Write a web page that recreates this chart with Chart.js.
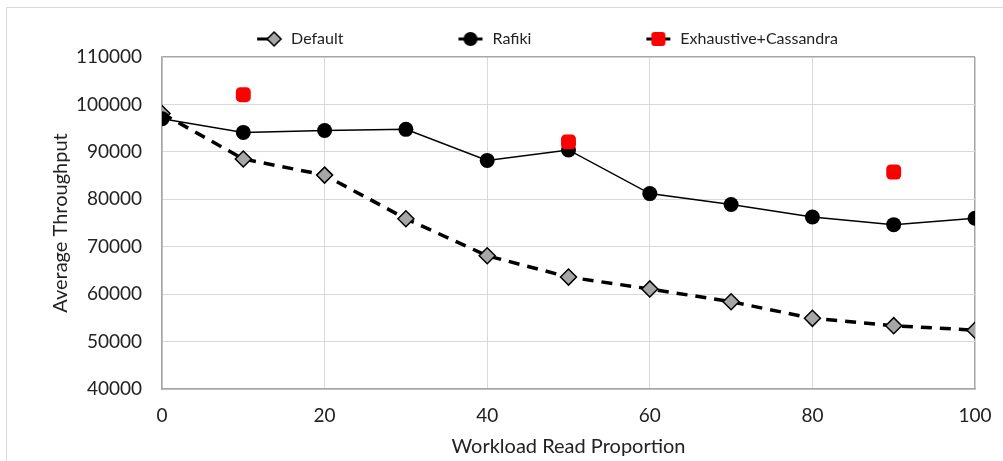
<!DOCTYPE html>
<html>
<head>
<meta charset="utf-8">
<script src="https://cdn.jsdelivr.net/npm/chart.js@4/dist/chart.umd.min.js"></script>
<style>
  body { margin: 0; background: #fff; }
  #wrap { position: relative; width: 1003px; height: 461px; overflow: hidden; }
  #frame { position: absolute; left: 6px; top: 7px; width: 1200px; height: 700px; border: 1px solid #d9d9d9; }
  canvas { position: absolute; left: 0; top: 0; }
</style>
</head>
<body>
<div id="wrap">
  <div id="frame"></div>
  <canvas id="chart" width="1003" height="461"></canvas>
</div>
<script>
// datos
const readProportion = [0, 10, 20, 30, 40, 50, 60, 70, 80, 90, 100];
const defaultThroughput = [98100, 88500, 85100, 75900, 68100, 63600, 61100, 58400, 54900, 53350, 52400];
const rafikiThroughput = [97000, 94100, 94500, 94750, 88200, 90400, 81200, 78900, 76250, 74650, 76000];
const exhaustiveX = [10, 50, 90];
const exhaustiveThroughput = [102050, 92100, 85750];
const xTicks = [0, 20, 40, 60, 80, 100];
const yTicks = [40000, 50000, 60000, 70000, 80000, 90000, 100000, 110000];

const font = 'Lato';
const toPoints = (xs, ys) => xs.map((x, i) => ({ x: x, y: ys[i] }));

// icono de leyenda: linea + marcador, con espacio vacio a la izquierda
function legendIcon(kind) {
  const c = document.createElement('canvas');
  c.width = 131; c.height = 18;
  const g = c.getContext('2d');
  const cy = 9;
  g.strokeStyle = '#000';
  g.lineWidth = 3;
  g.beginPath();
  if (kind === 'default') { g.moveTo(105, cy); g.lineTo(116, cy); }
  else { g.moveTo(105, cy); g.lineTo(129, cy); }
  g.stroke();
  if (kind === 'default') {
    g.fillStyle = '#a6a6a6';
    g.lineWidth = 1.5;
    g.beginPath();
    g.moveTo(122, cy - 7); g.lineTo(129, cy); g.lineTo(122, cy + 7); g.lineTo(115, cy);
    g.closePath(); g.fill(); g.stroke();
  } else if (kind === 'rafiki') {
    g.fillStyle = '#000';
    g.beginPath(); g.arc(117, cy, 7, 0, Math.PI * 2); g.fill();
  } else {
    g.fillStyle = '#ff0000';
    g.beginPath();
    if (g.roundRect) g.roundRect(110, cy - 7, 14, 14, 3); else g.rect(110, cy - 7, 14, 14);
    g.fill();
  }
  return c;
}
const icons = [legendIcon('default'), legendIcon('rafiki'), legendIcon('exh')];

new Chart(document.getElementById('chart'), {
  type: 'scatter',
  data: {
    datasets: [
      {
        label: 'Default',
        data: toPoints(readProportion, defaultThroughput),
        showLine: true,
        borderColor: '#000',
        borderWidth: 3.5,
        borderDash: [11, 8],
        pointStyle: 'rectRot',
        pointRadius: 8,
        pointBackgroundColor: '#a6a6a6',
        pointBorderColor: '#000',
        pointBorderWidth: 1.5,
        order: 2
      },
      {
        label: 'Rafiki',
        data: toPoints(readProportion, rafikiThroughput),
        showLine: true,
        borderColor: '#000',
        borderWidth: 1.5,
        pointStyle: 'circle',
        pointRadius: 7.5,
        pointBackgroundColor: '#000',
        pointBorderColor: '#000',
        pointBorderWidth: 0,
        order: 1
      },
      {
        label: 'Exhaustive+Cassandra',
        data: toPoints(exhaustiveX, exhaustiveThroughput),
        showLine: false,
        pointStyle: 'rectRounded',
        pointRadius: 8.7,
        pointBackgroundColor: '#ff0000',
        pointBorderColor: '#ff0000',
        pointBorderWidth: 0,
        order: 0
      }
    ]
  },
  options: {
    responsive: false,
    animation: false,
    layout: { padding: { top: 21, right: 28, bottom: 0, left: 15 } },
    plugins: {
      tooltip: { enabled: false },
      legend: {
        position: 'top',
        labels: {
          usePointStyle: true,
          pointStyleWidth: 131,
          padding: 10,
          color: '#222',
          font: { family: font, size: 16 },
          generateLabels: chart => chart.data.datasets.map((ds, i) => ({
            text: ds.label,
            pointStyle: icons[i],
            datasetIndex: i,
            fontColor: '#222',
            lineWidth: 0,
            strokeStyle: 'transparent',
            fillStyle: 'transparent'
          }))
        }
      }
    },
    scales: {
      x: {
        type: 'linear',
        min: 0,
        max: 100,
        afterBuildTicks: s => { s.ticks = xTicks.map(v => ({ value: v })); },
        afterFit: s => { s.height = 72; s.paddingLeft = 0; s.paddingRight = 0; },
        ticks: { padding: 15, color: '#222', font: { family: font, size: 19 } },
        grid: {
          drawTicks: false,
          color: c => c.tick && c.tick.value === 100 ? '#a6a6a6' : '#d9d9d9',
          lineWidth: c => c.tick && c.tick.value === 100 ? 1.5 : 1
        },
        border: { color: '#a6a6a6', width: 1.5 },
        title: {
          display: true,
          text: 'Workload Read Proportion',
          color: '#222',
          font: { family: font, size: 20 },
          padding: { top: 4, bottom: 2 }
        }
      },
      y: {
        min: 40000,
        max: 110000,
        afterBuildTicks: s => { s.ticks = yTicks.map(v => ({ value: v })); },
        afterFit: s => { s.width = 147; },
        ticks: { padding: 20, color: '#222', font: { family: font, size: 19 }, callback: v => String(v) },
        grid: {
          drawTicks: false,
          color: c => c.tick && c.tick.value === 110000 ? '#a6a6a6' : '#d9d9d9',
          lineWidth: c => c.tick && c.tick.value === 110000 ? 1.5 : 1
        },
        border: { color: '#a6a6a6', width: 1.5 },
        title: {
          display: true,
          text: 'Average Throughput',
          color: '#222',
          font: { family: font, size: 20 },
          padding: { top: 34, bottom: 0 }
        }
      }
    }
  }
});
</script>
</body>
</html>
